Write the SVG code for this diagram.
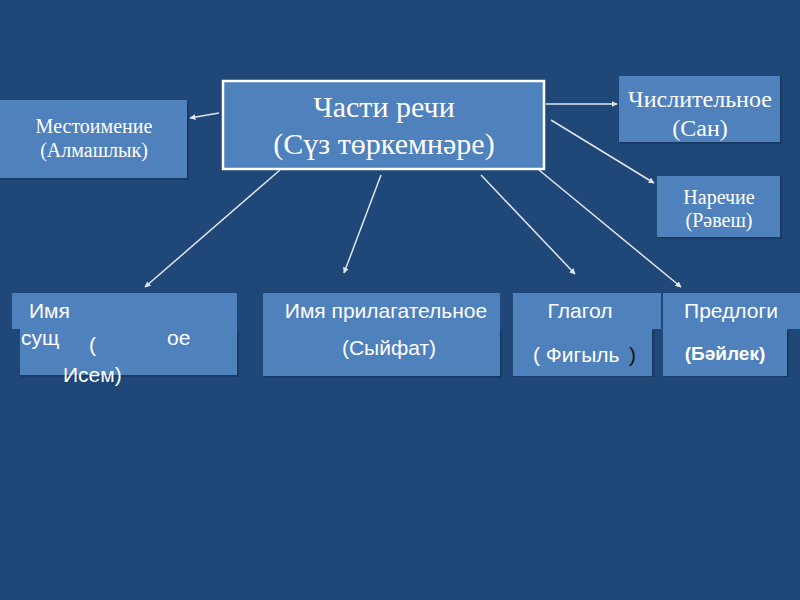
<svg xmlns="http://www.w3.org/2000/svg" width="800" height="600" viewBox="0 0 800 600">
<defs>
<style>
.bg{fill:#1f4778}
.box{fill:#4f81bd}
.sh{fill:#1a3a63}
.serif{font-family:"Liberation Serif","Times New Roman",serif;fill:#ffffff;text-anchor:middle}
.sans{font-family:"Liberation Sans",Arial,sans-serif;fill:#ffffff;font-size:21px}
.mid{text-anchor:middle}
.conn line{stroke:#dfe6f0;stroke-width:1.5;marker-end:url(#ah)}
</style>
<marker id="ah" viewBox="0 0 10 10" refX="9" refY="5" markerWidth="4" markerHeight="4" orient="auto">
<path d="M0,0 L10,5 L0,10 z" fill="#dfe6f0"/>
</marker>
</defs>
<rect class="bg" x="0" y="0" width="800" height="600"/>

<g id="center">
<rect class="box" x="223" y="81" width="321" height="88" stroke="#ffffff" stroke-width="2.5"/>
<text class="serif" x="384" y="117" font-size="30">Части речи</text>
<text class="serif" x="384" y="154" font-size="30">(Сүз төркемнәре)</text>
</g>

<g id="mestoimenie">
<rect class="sh" x="1" y="101" width="188" height="79"/>
<rect class="box" x="0" y="100" width="187" height="78"/>
<text class="serif" x="94" y="133" font-size="20">Местоимение</text>
<text class="serif" x="94" y="157" font-size="20">(Алмашлык)</text>
</g>

<g id="chislitelnoe">
<rect class="sh" x="620" y="77" width="162" height="67"/>
<rect class="box" x="619" y="76" width="161" height="66"/>
<text class="serif" x="700" y="107" font-size="24">Числительное</text>
<text class="serif" x="700" y="136" font-size="24">(Сан)</text>
</g>

<g id="narechie">
<rect class="sh" x="658" y="177" width="124" height="62"/>
<rect class="box" x="657" y="176" width="123" height="61"/>
<text class="serif" x="719" y="204" font-size="20">Наречие</text>
<text class="serif" x="719" y="227" font-size="20">(Рәвеш)</text>
</g>

<g id="sushch">
<rect class="sh" x="21" y="330" width="218" height="47"/>
<rect class="box" x="20" y="328" width="217" height="47"/>
<rect class="box" x="12" y="293" width="225" height="36"/>
<text class="sans" x="29" y="318">Имя</text>
<text class="sans" x="21" y="345">сущ</text>
<text class="sans" x="89" y="352">(</text>
<text class="sans" x="167" y="345">ое</text>
<text class="sans" x="63" y="382">Исем)</text>
</g>

<g id="prilagatelnoe">
<rect class="sh" x="264" y="330" width="238" height="48"/>
<rect class="box" x="263" y="293" width="237" height="83"/>
<text class="sans mid" x="386" y="318">Имя прилагательное</text>
<text class="sans mid" x="389" y="355">(Сыйфат)</text>
</g>

<g id="glagol">
<rect class="sh" x="514" y="331" width="140" height="46"/>
<rect class="box" x="513" y="293" width="139" height="83"/>
<rect class="box" x="538" y="293" width="123" height="36"/>
<text class="sans mid" x="580" y="318">Глагол</text>
<text class="sans" x="533" y="362">( Фигыль</text>
<text class="sans" x="629" y="362" style="fill:#111111">)</text>
</g>

<g id="predlogi">
<rect class="sh" x="664" y="331" width="125" height="46"/>
<rect class="box" x="663" y="293" width="124" height="83"/>
<rect class="box" x="663" y="293" width="137" height="36"/>
<text class="sans mid" x="731" y="318">Предлоги</text>
<text class="sans mid" x="725" y="360" style="font-weight:bold;font-size:19px">(Бәйлек)</text>
</g>

<g id="connectors" class="conn">
<line x1="219" y1="113" x2="190" y2="118"/>
<line x1="546" y1="104" x2="617" y2="104"/>
<line x1="551" y1="120" x2="654" y2="183"/>
<line x1="280" y1="170" x2="145" y2="287"/>
<line x1="381" y1="175" x2="344" y2="273"/>
<line x1="481" y1="175" x2="575" y2="274"/>
<line x1="539" y1="170" x2="681" y2="287"/>
</g>
</svg>
